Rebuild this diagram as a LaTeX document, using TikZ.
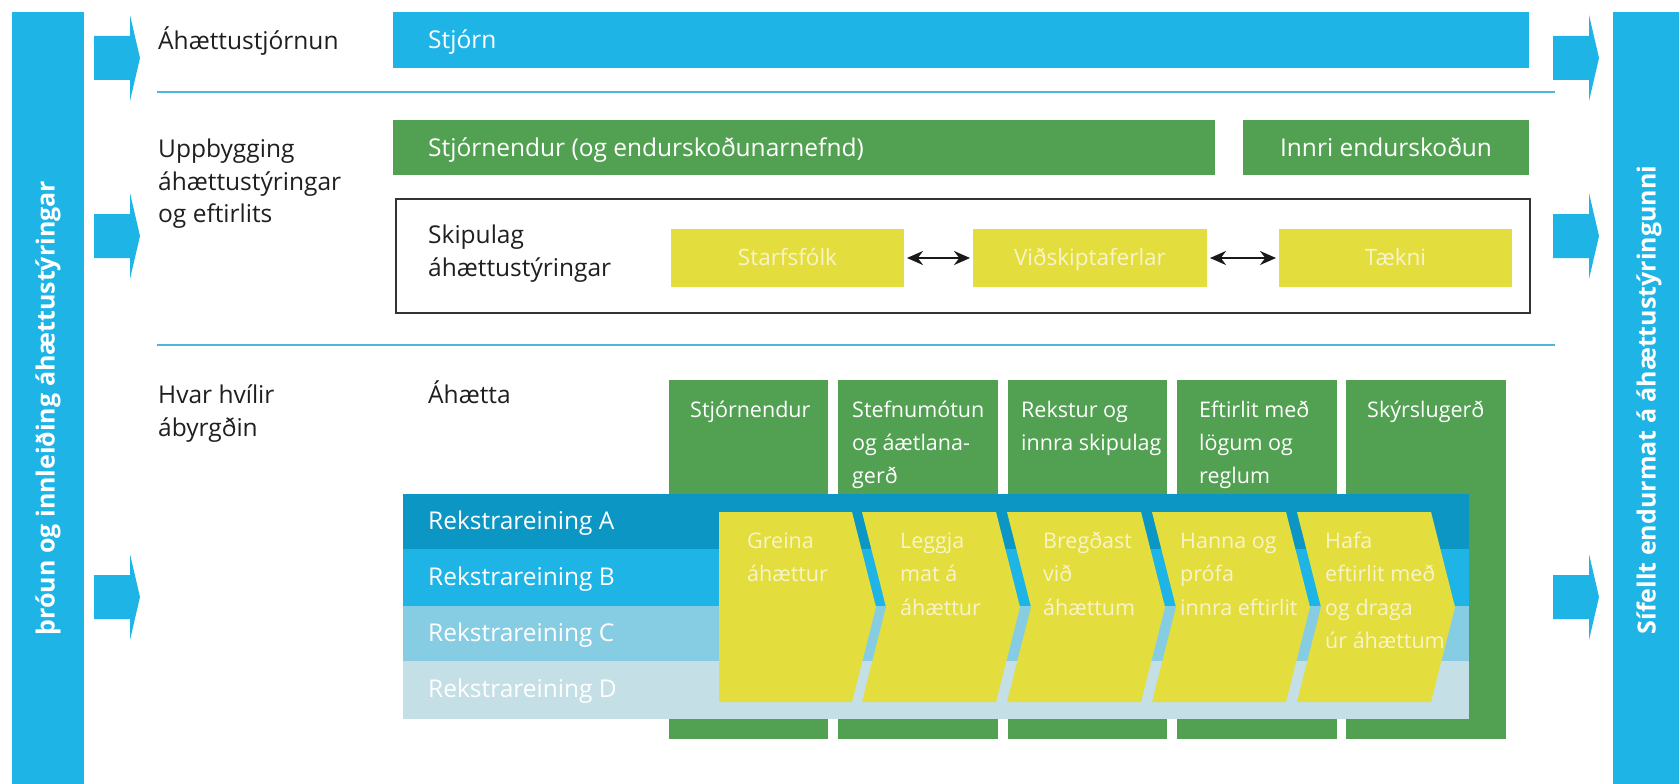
\documentclass[tikz,border=0pt]{standalone}
\usepackage{fontspec}
\setmainfont{Open Sans}
\usetikzlibrary{arrows.meta,fit}
\definecolor{cyanA}{HTML}{1EB4E6}
\definecolor{grn}{HTML}{52A152}
\definecolor{yel}{HTML}{E4DD3E}
\definecolor{barA}{HTML}{0B96C4}
\definecolor{barB}{HTML}{1EB4E6}
\definecolor{barC}{HTML}{86CDE3}
\definecolor{barD}{HTML}{C4DFE6}
\definecolor{rulec}{HTML}{4CB6DC}
\definecolor{pale}{HTML}{F7F4CC}
\newcommand{\mlines}[1]{\vtop{\let\\\cr\halign{##\hfil\cr#1\crcr}}}
\tikzset{
  blk/.style={inner sep=0pt, outer sep=0pt, draw=none},
  lbl/.style={anchor=base west, inner sep=0pt, font=\fontsize{24.5}{33}\selectfont, text=black!88},
  wlbl/.style={lbl, text=white},
  ctxt/.style={anchor=base west, inner sep=0pt, font=\fontsize{21.5}{33}\selectfont, text=white},
  chtxt/.style={anchor=base west, inner sep=0pt, font=\fontsize{21.5}{33.5}\selectfont, text=pale},
  ybox/.style={inner sep=0pt, outer sep=0pt, fill=yel, minimum height=58pt, text=pale,
    font=\fontsize{22.5}{26}\selectfont, text height=15.7pt, text depth=0pt},
  vtext/.style={rotate=90, font=\bfseries\fontsize{25}{30}\selectfont, text=white, inner sep=0pt},
  dbl/.style={{Stealth[length=16pt,width=14pt]}-{Stealth[length=16pt,width=14pt]}, line width=2.2pt, shorten >=3pt, shorten <=3pt, draw=black!90},
  rulestyle/.style={draw=rulec, line width=1.5pt},
  barrow/.pic={\fill[cyanA] (0,-22) -- (36,-22) -- (36,-43) -- (46,0) -- (36,43) -- (36,22) -- (0,22) -- cycle;}
}
\begin{document}
\begin{tikzpicture}[x=1pt,y=-1pt]
\useasboundingbox (0,0) rectangle (1679,784);
\fill[white] (0,0) rectangle (1679,784);
% side bars
\node[blk, fill=cyanA, fit={(12,12) (84,784)}] (lbar) {};
\node[vtext] (ltxt) at (48,408) {þróun og innleiðing áhættustýringar};
\node[blk, fill=cyanA, fit={(1613,12) (1679,784)}] (rbar) {};
\node[vtext] (rtxt) at (1649,400) {Sífellt endurmat á áhættustýringunni};
% block arrows
\foreach \yy in {58,236,597}{
  \pic at (94,\yy) {barrow};
  \pic at (1553,\yy) {barrow};
}
% row labels
\node[lbl] (l1) at (158,50) {Áhættustjórnun};
\node[lbl] (l2) at (158,157) {\mlines{Uppbygging\\áhættustýringar\\og eftirlits}};
\node[lbl] (l3) at (158,403) {\mlines{Hvar hvílir\\ábyrgðin}};
% Stjorn
\node[blk, fill=cyanA, fit={(393,12) (1529,68)}] (stjorn) {};
\node[wlbl] (stjornt) at (428,49) {Stjórn};
\draw[rulestyle] (157,92) -- (1555,92);
% Stjornendur / Innri
\node[blk, fill=grn, fit={(393,120) (1215,175)}] (stjn) {};
\node[wlbl] (stjnt) at (428,156) {Stjórnendur (og endurskoðunarnefnd)};
\node[blk, fill=grn, fit={(1243,120) (1529,175)}] (innri) {};
\node[wlbl, anchor=base] (innrit) at (1386,156) {Innri endurskoðun};
% Skipulag box
\node[blk, draw=black!80, line width=1.2pt, fit={(396,199) (1530,313)}] (skbox) {};
\node[lbl] (skt) at (428,243) {\mlines{Skipulag\\áhættustýringar}};
\node[ybox, minimum width=233pt] (starf) at (787.5,258) {Starfsfólk};
\node[ybox, minimum width=234pt] (vid) at (1090,258) {Viðskiptaferlar};
\node[ybox, minimum width=233pt] (taekni) at (1395.5,258) {Tækni};
\draw[dbl] (starf) -- (vid);
\draw[dbl] (vid) -- (taekni);
\draw[rulestyle] (157,345) -- (1555,345);
\node[lbl] (ahaetta) at (428,403) {Áhætta};
% columns
\foreach \xa/\xb/\n in {669/828/c1, 838/998/c2, 1008/1167/c3, 1177/1337/c4, 1346/1506/c5}
  \node[blk, fill=grn, fit={(\xa,380) (\xb,739)}] (\n) {};
\node[ctxt] (c1t) at (690,417) {Stjórnendur};
\node[ctxt] (c2t) at (852,417) {\mlines{Stefnumótun\\og áætlana-\\gerð}};
\node[ctxt] (c3t) at (1021,417) {\mlines{Rekstur og\\innra skipulag}};
\node[ctxt] (c4t) at (1199,417) {\mlines{Eftirlit með\\lögum og\\reglum}};
\node[ctxt] (c5t) at (1367,417) {Skýrslugerð};
% business unit bars
\node[blk, fill=barA, fit={(403,494) (1469,549)}] (ra) {};
\node[blk, fill=barB, fit={(403,549) (1469,606)}] (rb) {};
\node[blk, fill=barC, fit={(403,606) (1469,661)}] (rc) {};
\node[blk, fill=barD, fit={(403,661) (1469,719)}] (rd) {};
\node[wlbl] (rat) at (428,529) {Rekstrareining A};
\node[wlbl] (rbt) at (428,585) {Rekstrareining B};
\node[wlbl] (rct) at (428,641) {Rekstrareining C};
\node[wlbl] (rdt) at (428,697) {Rekstrareining D};
% chevrons
\fill[yel] (719,512) -- (852,512) -- (876,607) -- (852,702) -- (719,702) -- cycle;
\foreach \L in {862,1007,1152,1297}
  \fill[yel] (\L,512) -- (\L+134,512) -- (\L+158,607) -- (\L+134,702) -- (\L,702) -- (\L+24,607) -- cycle;
\node[chtxt] (h1) at (747,548) {\mlines{Greina\\áhættur}};
\node[chtxt] (h2) at (900,548) {\mlines{Leggja\\mat á\\áhættur}};
\node[chtxt] (h3) at (1043,548) {\mlines{Bregðast\\við\\áhættum}};
\node[chtxt] (h4) at (1180,548) {\mlines{Hanna og\\prófa\\innra eftirlit}};
\node[chtxt] (h5) at (1325,548) {\mlines{Hafa\\eftirlit með\\og draga\\úr áhættum}};
\end{tikzpicture}
\end{document}
